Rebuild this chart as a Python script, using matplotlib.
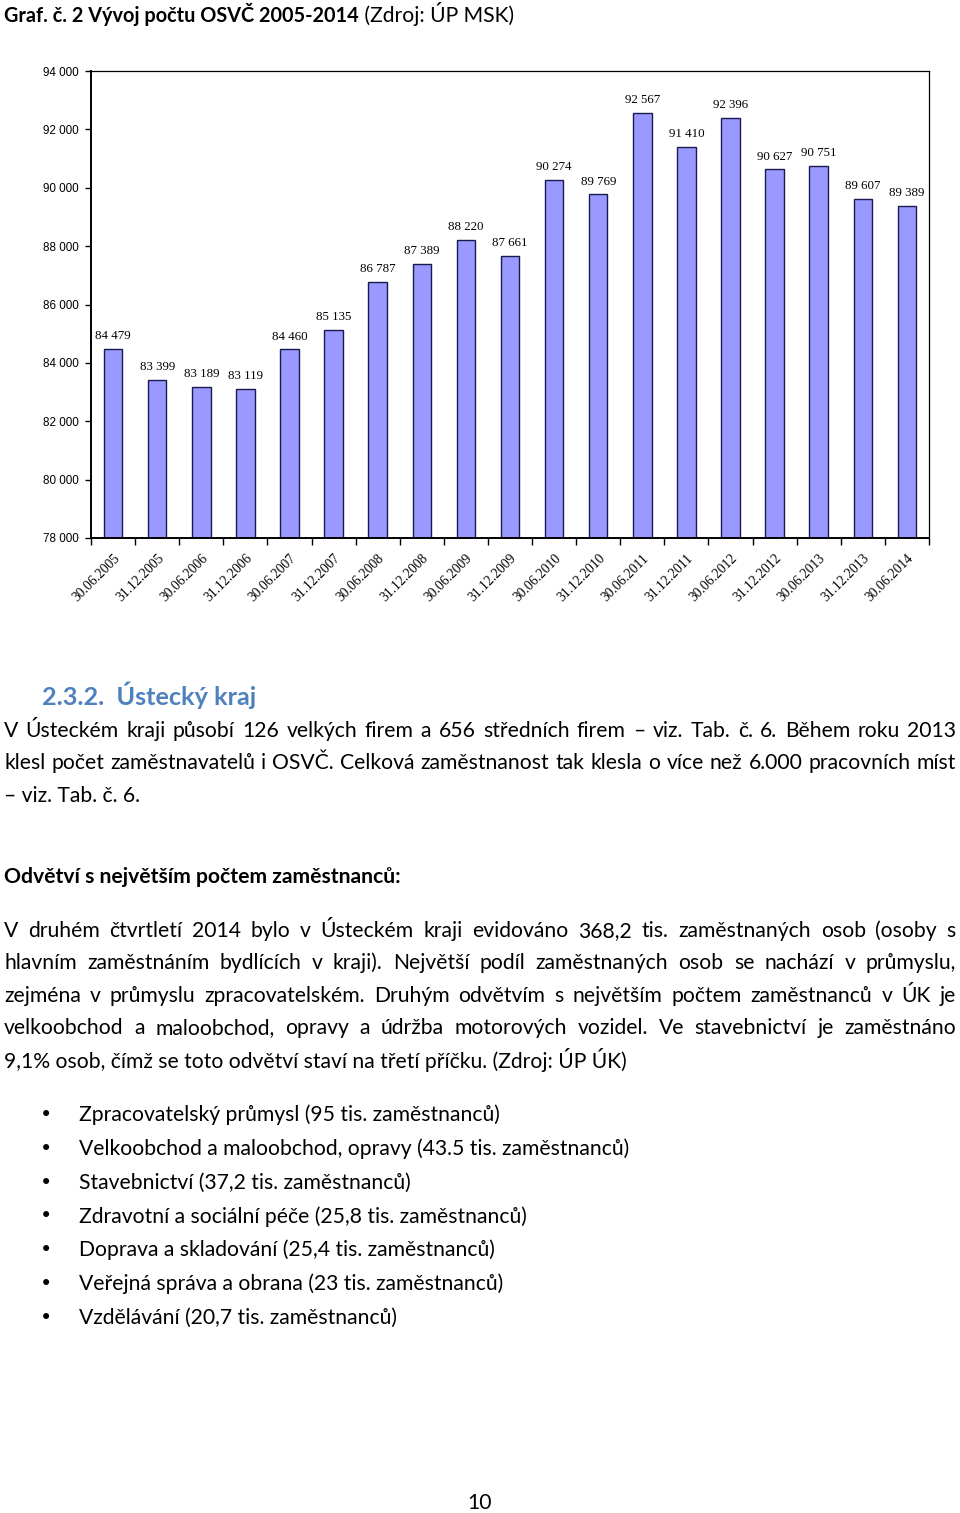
import matplotlib
matplotlib.use("Agg")
import matplotlib.pyplot as plt
import numpy as np

# ---------------------------------------------------------------------------
# Data
# ---------------------------------------------------------------------------
dates = [
    "30.06.2005", "31.12.2005", "30.06.2006", "31.12.2006", "30.06.2007",
    "31.12.2007", "30.06.2008", "31.12.2008", "30.06.2009", "31.12.2009",
    "30.06.2010", "31.12.2010", "30.06.2011", "31.12.2011", "30.06.2012",
    "31.12.2012", "30.06.2013", "31.12.2013", "30.06.2014",
]
osvc = [
    84479, 83399, 83189, 83119, 84460, 85135, 86787, 87389, 88220, 87661,
    90274, 89769, 92567, 91410, 92396, 90627, 90751, 89607, 89389,
]
y_ticks = [78000, 80000, 82000, 84000, 86000, 88000, 90000, 92000, 94000]

title_bold = "Graf. č. 2 Vývoj počtu OSVČ 2005-2014"
title_rest = " (Zdroj: ÚP MSK)"
heading = "2.3.2.  Ústecký kraj"
para1 = [
    "V Ústeckém kraji působí 126 velkých firem a 656 středních firem – viz. Tab. č. 6. Během roku 2013",
    "klesl počet zaměstnavatelů i OSVČ. Celková zaměstnanost tak klesla o více než 6.000 pracovních míst",
    "– viz. Tab. č. 6.",
]
subheading = "Odvětví s největším počtem zaměstnanců:"
para2 = [
    "V druhém čtvrtletí 2014 bylo v Ústeckém kraji evidováno 368,2 tis. zaměstnaných osob (osoby s",
    "hlavním zaměstnáním bydlících v kraji). Největší podíl zaměstnaných osob se nachází v průmyslu,",
    "zejména v průmyslu zpracovatelském. Druhým odvětvím s největším počtem zaměstnanců v ÚK je",
    "velkoobchod a maloobchod, opravy a údržba motorových vozidel. Ve stavebnictví je zaměstnáno",
    "9,1% osob, čímž se toto odvětví staví na třetí příčku. (Zdroj: ÚP ÚK)",
]
bullets = [
    "Zpracovatelský průmysl (95 tis. zaměstnanců)",
    "Velkoobchod a maloobchod, opravy (43.5 tis. zaměstnanců)",
    "Stavebnictví (37,2 tis. zaměstnanců)",
    "Zdravotní a sociální péče (25,8 tis. zaměstnanců)",
    "Doprava a skladování (25,4 tis. zaměstnanců)",
    "Veřejná správa a obrana (23 tis. zaměstnanců)",
    "Vzdělávání (20,7 tis. zaměstnanců)",
]
page_no = "10"

# ---------------------------------------------------------------------------
# Figure
# ---------------------------------------------------------------------------
W, H = 960, 1513
fig = plt.figure(figsize=(W / 100, H / 100), dpi=100)
body_font = ["Lato", "DejaVu Sans"]
body_size = 15.2


def fx(px):
    return px / W


def fy(py):
    return 1 - py / H


# ── chart ───────────────────────────────────────────────────────────────
ax = fig.add_axes([fx(91), fy(538), fx(929) - fx(91), fy(71) - fy(538)])
x = np.arange(len(osvc))
ax.bar(x, osvc, width=0.42, color="#9999FF", edgecolor="#1a1a50", linewidth=1.0)
ax.set_xlim(-0.5, len(osvc) - 0.5)
ax.set_ylim(78000, 94000)
ax.set_yticks(y_ticks)
ax.set_yticklabels([f"{v:,}".replace(",", " ") for v in y_ticks],
                   fontsize=8.4, family="Liberation Sans")
ax.tick_params(axis="y", direction="out", length=4, width=1, pad=5)

ax.set_xticks(x)
ax.set_xticklabels(dates, rotation=45, ha="right", rotation_mode="anchor",
                   fontsize=9.8, family="Liberation Serif")
ax.tick_params(axis="x", length=0, pad=10)
ax.set_xticks(np.arange(-0.5, len(osvc), 1.0), minor=True)
ax.tick_params(axis="x", which="minor", direction="out", length=5, width=1)

for xi, v in zip(x, osvc):
    ax.annotate(f"{v:,}".replace(",", " "), (xi, v), xytext=(0, 5),
                textcoords="offset points", ha="center", va="bottom",
                fontsize=9.3, family="Liberation Serif")

for side in ["left", "bottom"]:
    ax.spines[side].set_linewidth(1.4)
for side in ["top", "right"]:
    ax.spines[side].set_linewidth(0.9)

# ── page text ───────────────────────────────────────────────────────────
renderer = fig.canvas.get_renderer()


def text_width(s, **kw):
    t = fig.text(0, 0, s, **kw)
    w = t.get_window_extent(renderer).width
    t.remove()
    return w


def justified(line, y, left=4, right=956, **kw):
    words = line.split(" ")
    widths = [text_width(w, **kw) for w in words]
    gap = (right - left - sum(widths)) / (len(words) - 1)
    pos = left
    for w, wd in zip(words, widths):
        fig.text(fx(pos), fy(y), w, ha="left", va="center", **kw)
        pos += wd + gap


body = dict(family=body_font, fontsize=body_size, color="black")

t1 = fig.text(fx(4), fy(14), title_bold, ha="left", va="center",
              fontweight="bold", family=body_font, fontsize=14.3, color="black")
tw = t1.get_window_extent(renderer).width
fig.text(fx(4 + tw), fy(14), title_rest, ha="left", va="center", **body)

fig.text(fx(42), fy(695), heading, ha="left", va="center", fontweight="bold",
         family=body_font, fontsize=18.2, color="#4F81BD")

for i, (line, y) in enumerate(zip(para1, [731, 763, 796])):
    if i < len(para1) - 1:
        justified(line, y, **body)
    else:
        fig.text(fx(4), fy(y), line, ha="left", va="center", **body)

fig.text(fx(4), fy(877), subheading, ha="left", va="center",
         fontweight="bold", **body)

for i, (line, y) in enumerate(zip(para2, [931, 963, 996, 1028, 1060])):
    if i < len(para2) - 1:
        justified(line, y, **body)
    else:
        fig.text(fx(4), fy(y), line, ha="left", va="center", **body)

for i, b in enumerate(bullets):
    y = 1115 + i * 33.8
    fig.text(fx(46), fy(y), "•", ha="center", va="center",
             family="DejaVu Sans", fontsize=15)
    fig.text(fx(79), fy(y), b, ha="left", va="center", **body)

fig.text(fx(480), fy(1503), page_no, ha="center", va="center", **body)

fig.savefig("out.png", dpi=100)
